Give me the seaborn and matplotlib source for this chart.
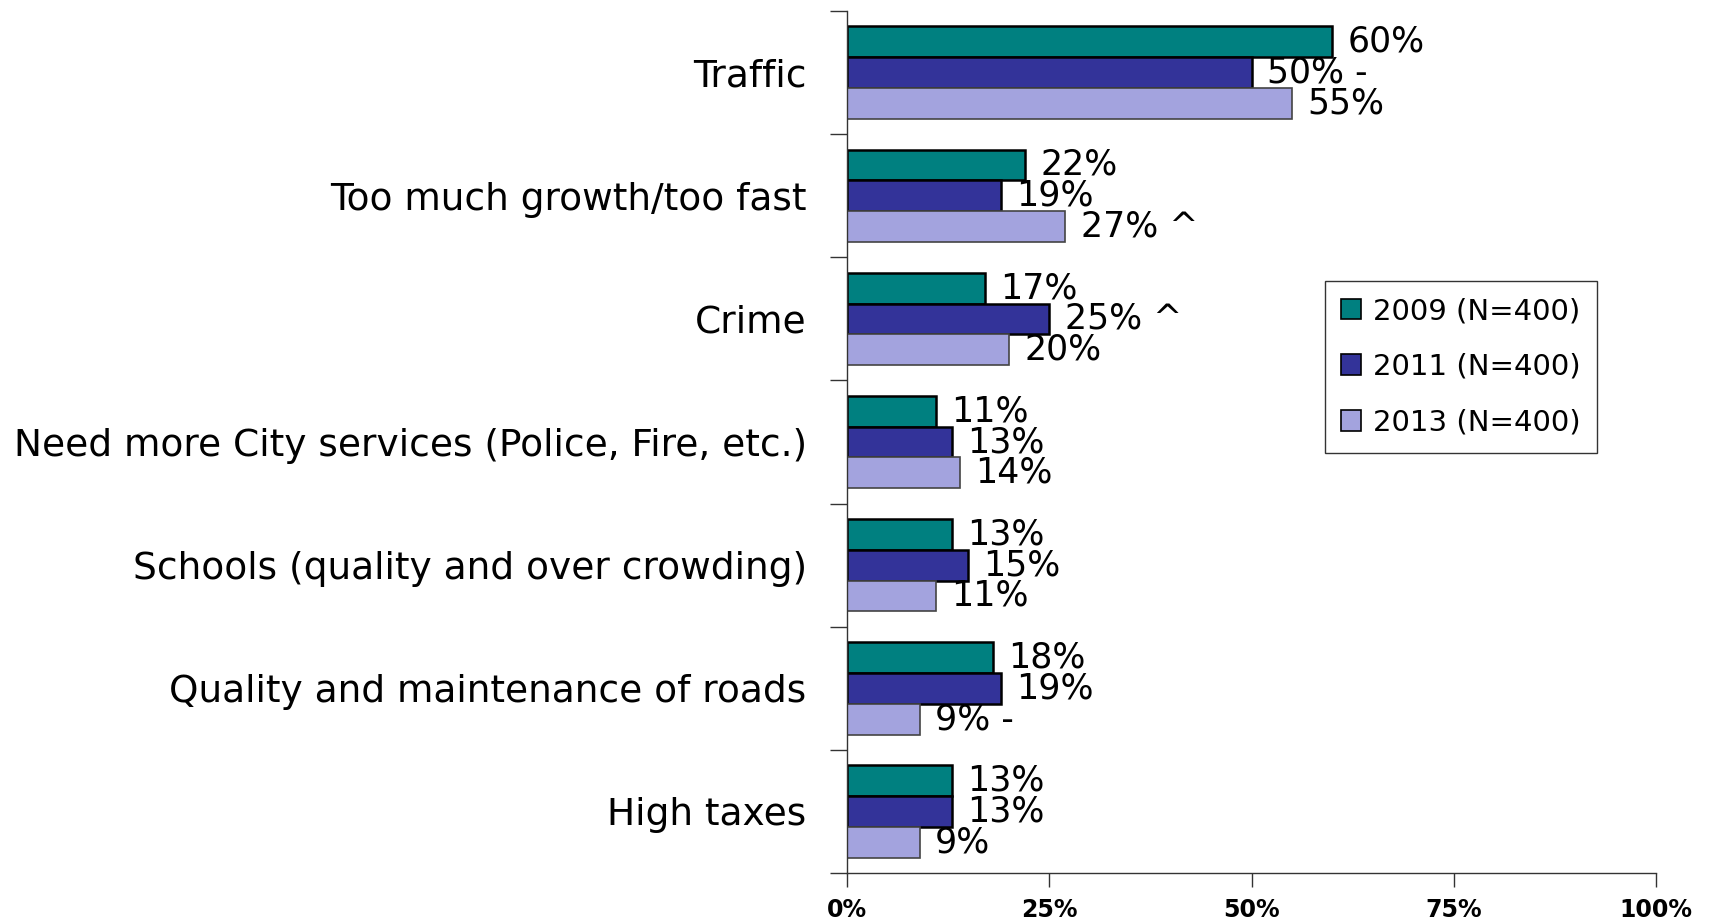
import matplotlib
matplotlib.use("Agg")
import matplotlib.pyplot as plt
import seaborn as sns
import pandas as pd
import numpy as np
from matplotlib.patches import Patch

categories = ["Traffic", "Too much growth/too fast", "Crime",
              "Need more City services (Police, Fire, etc.)",
              "Schools (quality and over crowding)",
              "Quality and maintenance of roads", "High taxes"]
series = ["2009 (N=400)", "2011 (N=400)", "2013 (N=400)"]
v2009 = [60, 22, 17, 11, 13, 18, 13]
v2011 = [50, 19, 25, 13, 15, 19, 13]
v2013 = [55, 27, 20, 14, 11, 9, 9]
m2009 = ["", "", "", "", "", "", ""]
m2011 = [" -", "", " ^", "", "", "", ""]
m2013 = ["", " ^", "", "", "", " -", ""]
xticks = [0, 25, 50, 75, 100]
xticklabels = ["0%", "25%", "50%", "75%", "100%"]

colors = ["#008080", "#333399", "#A3A3DE"]
edges = ["#000000", "#000000", "#444444"]

rows = []
for s, vals in zip(series, [v2009, v2011, v2013]):
    for c, v in zip(categories, vals):
        rows.append({"cat": c, "series": s, "val": v})
df = pd.DataFrame(rows)

sns.set_theme(style="white")
plt.rcParams['font.family'] = ['DejaVu Sans']

fig = plt.figure(figsize=(17.09, 9.22), dpi=100)
ax = fig.add_axes([0.4956, 0.0531, 0.969 - 0.4956, 0.988 - 0.0531])

sns.barplot(data=df, y="cat", x="val", hue="series", order=categories,
            hue_order=series, palette=colors, orient="h", width=0.75,
            saturation=1, ax=ax, legend=False)

marks = [m2009, m2011, m2013]
vals_all = [v2009, v2011, v2013]
for i, cont in enumerate(ax.containers):
    for p in cont:
        p.set_edgecolor(edges[i])
        p.set_linewidth(1.8 if i < 2 else 1.2)
    labels = [f"{v}%{m}" for v, m in zip(vals_all[i], marks[i])]
    ax.bar_label(cont, labels=labels, padding=11, fontsize=25, color="black")

ax.set_xlim(0, 100)
ax.set_ylim(6.5, -0.5)
ax.set_xlabel("")
ax.set_ylabel("")
ax.set_xticks(xticks)
ax.set_xticklabels(xticklabels, fontsize=17, fontweight="bold")
ax.tick_params(axis="x", which="major", length=10, width=1, color="#333333",
               direction="out", pad=8, bottom=True)
ax.tick_params(axis="y", which="major", length=0, pad=29, labelsize=27,
               labelcolor="black")
ax.tick_params(axis="x", labelcolor="black")
ax.set_yticks(np.arange(-0.5, 7.0, 1.0), minor=True)
ax.tick_params(axis="y", which="minor", length=12, width=1, color="#333333",
               direction="out", left=True)

for s in ["top", "right"]:
    ax.spines[s].set_visible(False)
for s in ["left", "bottom"]:
    ax.spines[s].set_color("#333333")
    ax.spines[s].set_linewidth(1)

handles = [Patch(facecolor=c, edgecolor="black", linewidth=1.2) for c in colors]
leg = ax.legend(handles, series, loc="upper left",
                bbox_to_anchor=((1325 - 847) / (1656 - 847), 1 - (281 - 11) / (873 - 11)),
                fontsize=21, frameon=True, fancybox=False, edgecolor="black",
                handlelength=0.7, handleheight=0.7, handletextpad=0.4,
                borderpad=0.55, labelspacing=0.95, borderaxespad=0,
                labelcolor="black")
leg.get_frame().set_linewidth(1)

fig.savefig("out.png", dpi=100)
